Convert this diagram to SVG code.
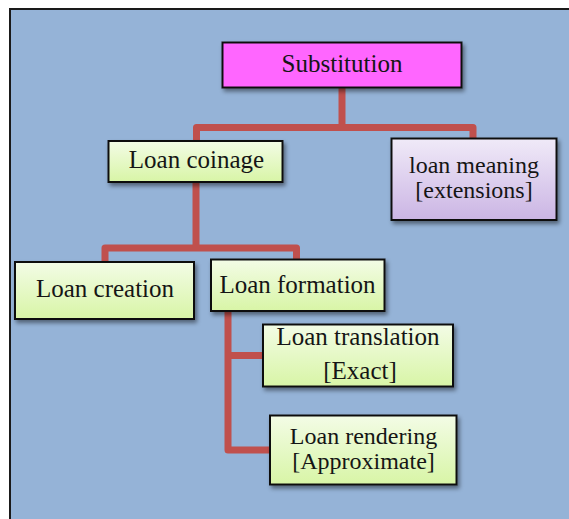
<svg xmlns="http://www.w3.org/2000/svg" width="569" height="519" viewBox="0 0 569 519">
<defs>
<style>
.node rect{stroke:#111;stroke-width:2;filter:url(#sh)}
.node text{font-family:"Liberation Serif","Times New Roman",serif;font-size:25px;fill:#151515;text-anchor:middle}
.node text.tight{font-size:24px}
.green{fill:url(#gg)}
.conn{fill:none;stroke:#C0504D;stroke-width:7;stroke-linejoin:round;stroke-linecap:butt}
</style>
<linearGradient id="gg" x1="0" y1="0" x2="0" y2="1">
<stop offset="0" stop-color="#F3FCE6"/>
<stop offset="1" stop-color="#D8F5A6"/>
</linearGradient>
<linearGradient id="pg" x1="0" y1="0" x2="0" y2="1">
<stop offset="0" stop-color="#F0EAF8"/>
<stop offset="1" stop-color="#CBB5E4"/>
</linearGradient>
<filter id="sh" x="-10%" y="-10%" width="130%" height="140%">
<feDropShadow dx="2" dy="3" stdDeviation="2" flood-color="#000" flood-opacity="0.45"/>
</filter>
</defs>
<rect x="0" y="0" width="569" height="519" fill="#ffffff"/>
<rect x="10" y="9" width="570" height="520" fill="#95B3D7" stroke="#1a1a1a" stroke-width="2"/>
<g id="connectors">
<path class="conn" d="M196.5,141 V127.5 H473 V138"/>
<path class="conn" d="M342,87 V127.5"/>
<path class="conn" d="M105,262 V248 H296.5 V259"/>
<path class="conn" d="M196,182 V248"/>
<path class="conn" d="M228,311 V450 H270"/>
<path class="conn" d="M228,355.5 H263"/>
</g>
<g id="substitution" class="node">
<rect x="222.5" y="42.5" width="239" height="45" fill="#FF66FF"/>
<text x="342" y="72">Substitution</text>
</g>
<g id="loan-coinage" class="node">
<rect x="108.5" y="141" width="174" height="41" class="green"/>
<text x="196.5" y="168">Loan coinage</text>
</g>
<g id="loan-meaning" class="node">
<rect x="391.5" y="138.5" width="165" height="81.5" fill="url(#pg)"/>
<text class="tight" x="474" y="173">loan meaning</text>
<text class="tight" x="474" y="198">[extensions]</text>
</g>
<g id="loan-creation" class="node">
<rect x="15" y="262" width="179" height="57" class="green"/>
<text x="105" y="297">Loan creation</text>
</g>
<g id="loan-formation" class="node">
<rect x="211" y="259.5" width="173.5" height="51.5" class="green"/>
<text x="297.5" y="293">Loan formation</text>
</g>
<g id="loan-translation" class="node">
<rect x="263" y="324.5" width="190" height="62" class="green"/>
<text x="358" y="345">Loan translation</text>
<text x="360" y="379">[Exact]</text>
</g>
<g id="loan-rendering" class="node">
<rect x="270" y="415.5" width="186.5" height="69" class="green"/>
<text class="tight" x="363.5" y="444">Loan rendering</text>
<text class="tight" x="363.5" y="469">[Approximate]</text>
</g>
</svg>
